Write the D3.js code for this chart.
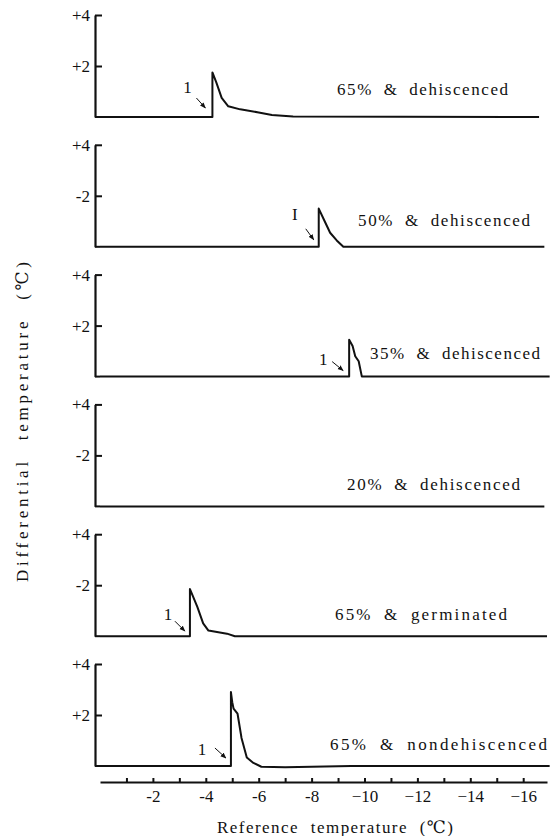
<!DOCTYPE html>
<html>
<head>
<meta charset="utf-8">
<script src="https://cdn.jsdelivr.net/npm/d3@7/dist/d3.min.js"></script>
<style>
  html, body { margin: 0; padding: 0; background: #fff; }
  svg { display: block; }
  text { font-family: "Liberation Serif", "DejaVu Serif", serif; fill: #111; }
</style>
</head>
<body>
<svg id="chart" width="550" height="836"></svg>
<script>
// ---------------- DATA ----------------
const panelNames = ["65% & dehiscenced", "50% & dehiscenced", "35% & dehiscenced",
                    "20% & dehiscenced", "65% & germinated", "65% & nondehiscenced"];
const yTickValues = [2, 4];
const yTickLabels = [["+2", "+4"], ["-2", "+4"], ["+2", "+4"], ["-2", "+4"], ["-2", "+4"], ["+2", "+4"]];
const exoLabels = ["1", "I", "1", null, "1", "1"];

const xTickValues = [-1, -2, -3, -4, -5, -6, -7, -8, -9, -10, -11, -12, -13, -14, -15, -16];
const xTickLabels = { "-2": "-2", "-4": "-4", "-6": "-6", "-8": "-8",
                      "-10": "\u221210", "-12": "\u221212", "-14": "\u221214", "-16": "\u221216" };

// series: reference temperature (°C) and differential temperature (°C)
const s1Temp = [0, -4.25, -4.25, -4.4, -4.6, -4.85, -5.3, -6.0, -6.5, -7.3, -16.6];
const s1Diff = [0, 0, 1.75, 1.35, 0.75, 0.42, 0.3, 0.18, 0.08, 0.02, 0];

const s2Temp = [0, -8.27, -8.27, -8.45, -8.7, -8.95, -9.2, -16.8];
const s2Diff = [0, 0, 1.5, 1.1, 0.55, 0.25, 0, 0];

const s3Temp = [0, -9.42, -9.42, -9.55, -9.65, -9.78, -9.9, -17.0];
const s3Diff = [0, 0, 1.45, 1.2, 0.8, 0.6, 0, 0];

const s4Temp = [0, -16.8];
const s4Diff = [0, 0];

const s5Temp = [0, -3.4, -3.4, -3.5, -3.68, -3.9, -4.1, -4.8, -5.1, -16.9];
const s5Diff = [0, 0, 1.85, 1.6, 1.15, 0.5, 0.22, 0.1, 0, 0];

const s6Temp = [0, -4.95, -4.95, -5.0, -5.05, -5.2, -5.35, -5.55, -5.8, -6.1, -7.0, -8.5, -9.5, -17.0];
const s6Diff = [0, 0, 2.9, 2.5, 2.25, 2.05, 1.1, 0.33, 0.12, -0.03, -0.05, -0.02, 0, 0];

const seriesTemp = [s1Temp, s2Temp, s3Temp, s4Temp, s5Temp, s6Temp];
const seriesDiff = [s1Diff, s2Diff, s3Diff, s4Diff, s5Diff, s6Diff];

// ---------------- LAYOUT ----------------
const svg = d3.select("#chart");
const ink = "#111";
const serif = "'Liberation Serif', 'DejaVu Serif', serif";

const x = d3.scaleLinear().domain([0, -16.9]).range([100, 547]);
const baseScale = d3.scalePoint().domain(d3.range(6)).range([117, 766]);
const yAxisX = 95;
const unitSpan = 102;

const labelPos = [
  { x: 337, dy: -22, w: 171 },
  { x: 358, dy: -21, w: 172 },
  { x: 370, dy: -18, w: 170 },
  { x: 347, dy: -16, w: 173 },
  { x: 335, dy: -16, w: 172 },
  { x: 330, dy: -16, w: 217 }
];
const annot = [
  { lx: -25, ly: -30, ax1: -16, ay1: -19, ax2: -7, ay2: -9 },
  { lx: -24, ly: -32, ax1: -13, ay1: -18, ax2: -5, ay2: -7 },
  { lx: -26, ly: -17, ax1: -17, ay1: -15, ax2: -6, ay2: -6 },
  null,
  { lx: -22, ly: -22, ax1: -15, ay1: -15, ax2: -5, ay2: -5 },
  { lx: -29, ly: -17, ax1: -16, ay1: -18, ax2: -5, ay2: -8 }
];

svg.append("defs").append("marker")
  .attr("id", "ah").attr("viewBox", "0 0 10 10")
  .attr("refX", 9).attr("refY", 5)
  .attr("markerWidth", 6).attr("markerHeight", 6)
  .attr("orient", "auto")
  .append("path").attr("d", "M0,1 L10,5 L0,9 Z").attr("fill", ink);

d3.range(6).forEach(i => {
  const base = baseScale(i);
  const y = d3.scaleLinear().domain([0, 4]).range([base, base - unitSpan]);
  const g = svg.append("g");

  const yAxis = d3.axisLeft(y)
    .tickValues(yTickValues)
    .tickSizeInner(-7).tickSizeOuter(0).tickPadding(5)
    .tickFormat((d, k) => yTickLabels[i][k]);
  const ga = g.append("g").attr("transform", `translate(${yAxisX},0)`).call(yAxis);
  ga.attr("font-family", serif);
  ga.select(".domain").attr("stroke", ink).attr("stroke-width", 2.2);
  ga.selectAll(".tick line").attr("stroke", ink).attr("stroke-width", 2);
  ga.selectAll("text").attr("font-size", 17).attr("fill", ink);

  const pts = seriesTemp[i].map((t, k) => [t, seriesDiff[i][k]]);
  const line = d3.line().x(d => x(d[0])).y(d => y(d[1]));
  g.append("path").datum(pts)
    .attr("d", line)
    .attr("fill", "none")
    .attr("stroke", ink)
    .attr("stroke-width", 2)
    .attr("stroke-linejoin", "round");
  g.append("line")
    .attr("x1", yAxisX).attr("x2", x(0))
    .attr("y1", y(0)).attr("y2", y(0))
    .attr("stroke", ink).attr("stroke-width", 2);

  const lp = labelPos[i];
  g.append("text")
    .attr("x", lp.x).attr("y", base + lp.dy)
    .attr("font-size", 17)
    .attr("font-family", serif)
    .style("word-spacing", "5px")
    .attr("textLength", lp.w).attr("lengthAdjust", "spacing")
    .text(panelNames[i]);

  if (exoLabels[i]) {
    const jt = seriesTemp[i][1];
    const fx = x(jt), fy = y(0);
    const a = annot[i];
    g.append("text")
      .attr("x", fx + a.lx).attr("y", fy + a.ly)
      .attr("text-anchor", "middle").attr("dominant-baseline", "central")
      .attr("font-size", 17)
      .attr("font-family", serif)
      .text(exoLabels[i]);
    g.append("line")
      .attr("x1", fx + a.ax1).attr("y1", fy + a.ay1)
      .attr("x2", fx + a.ax2).attr("y2", fy + a.ay2)
      .attr("stroke", ink).attr("stroke-width", 1)
      .attr("marker-end", "url(#ah)");
  }
});

// x axis
const xAxisY = 782;
const xAxis = d3.axisBottom(x)
  .tickValues(xTickValues)
  .tickSizeInner(-4).tickSizeOuter(0).tickPadding(8)
  .tickFormat(d => xTickLabels[String(d)] || "");
const gx = svg.append("g").attr("transform", `translate(0,${xAxisY})`).call(xAxis);
gx.attr("font-family", serif);
gx.select(".domain").attr("stroke", ink).attr("stroke-width", 2);
gx.selectAll(".tick line").attr("stroke", ink).attr("stroke-width", 2);
gx.selectAll("text").attr("font-size", 17).attr("fill", ink);

// axis titles
svg.append("text")
  .attr("x", 335).attr("y", 833)
  .attr("text-anchor", "middle")
  .attr("font-size", 17)
  .attr("font-family", serif)
  .style("word-spacing", "6px")
  .attr("textLength", 236).attr("lengthAdjust", "spacing")
  .text("Reference temperature (\u2103)");

svg.append("text")
  .attr("transform", "translate(28,422) rotate(-90)")
  .attr("text-anchor", "middle")
  .attr("font-size", 17)
  .attr("font-family", serif)
  .style("word-spacing", "10px")
  .attr("textLength", 320).attr("lengthAdjust", "spacing")
  .text("Differential temperature (\u2103)");
</script>
</body>
</html>
